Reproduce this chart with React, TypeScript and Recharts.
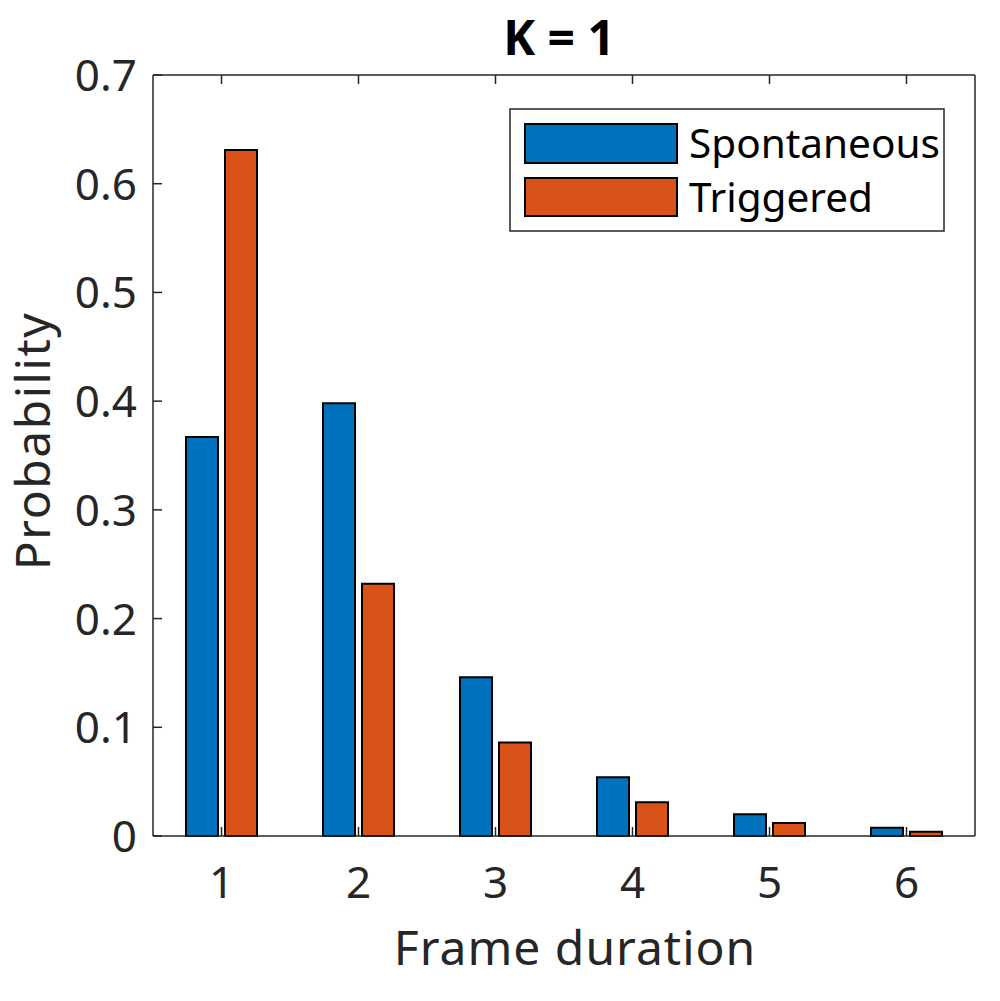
import React from "react";
import { BarChart, Bar, XAxis, YAxis } from "recharts";

const durations = ["1", "2", "3", "4", "5", "6"];
const spontaneous = [0.367, 0.398, 0.146, 0.054, 0.02, 0.0075];
const triggered = [0.631, 0.232, 0.086, 0.031, 0.012, 0.004];
const yTicks = [0, 0.1, 0.2, 0.3, 0.4, 0.5, 0.6, 0.7];
const yTickLabels = ["0", "0.1", "0.2", "0.3", "0.4", "0.5", "0.6", "0.7"];

const BLUE = "#0072BD";
const ORANGE = "#D95319";
const AXIS = "#262626";
const FONT = "'Noto Sans', 'Open Sans', sans-serif";
const TICK_LEN = 9;

const data = durations.map((d, i) => ({
  duration: d,
  spontaneous: spontaneous[i],
  triggered: triggered[i],
}));

// MATLAB style: tick marks point into the plot box
const LeftTick = (props: any) => {
  const { x, y, payload } = props;
  const idx = yTicks.indexOf(payload.value);
  return (
    <g>
      <line x1={x} x2={x + TICK_LEN} y1={y} y2={y} stroke={AXIS} strokeWidth={1.5} />
      <text x={x - 16} y={y + 16} textAnchor="end" fontSize={44} fill={AXIS} fontFamily={FONT}>
        {yTickLabels[idx] ?? payload.value}
      </text>
    </g>
  );
};

const RightTick = (props: any) => {
  const { x, y } = props;
  return <line x1={x} x2={x - TICK_LEN} y1={y} y2={y} stroke={AXIS} strokeWidth={1.5} />;
};

const BottomTick = (props: any) => {
  const { x, y, payload } = props;
  return (
    <g>
      <line x1={x} x2={x} y1={y} y2={y - TICK_LEN} stroke={AXIS} strokeWidth={1.5} />
      <text x={x} y={y + 62} textAnchor="middle" fontSize={44} fill={AXIS} fontFamily={FONT}>
        {payload.value}
      </text>
    </g>
  );
};

const TopTick = (props: any) => {
  const { x, y } = props;
  return <line x1={x} x2={x} y1={y} y2={y + TICK_LEN} stroke={AXIS} strokeWidth={1.5} />;
};

export default function App() {
  return (
    <div style={{ position: "absolute", left: 0, top: 0, width: 1000, height: 1001, background: "#fff" }}>
      <BarChart
        width={1000}
        height={1001}
        data={data}
        margin={{ top: 74, right: 24, bottom: 105, left: 93 }}
        barSize={32}
        barGap={7}
      >
        <XAxis
          dataKey="duration"
          height={60}
          tickSize={0}
          tickMargin={0}
          tickLine={false}
          axisLine={{ stroke: AXIS, strokeWidth: 1.5 }}
          tick={BottomTick}
          interval={0}
        />
        <XAxis
          xAxisId="top"
          dataKey="duration"
          orientation="top"
          height={1}
          tickSize={0}
          tickMargin={0}
          tickLine={false}
          axisLine={{ stroke: AXIS, strokeWidth: 1.5 }}
          tick={TopTick}
          interval={0}
        />
        <YAxis
          width={60}
          domain={[0, 0.7]}
          ticks={yTicks}
          tickSize={0}
          tickMargin={0}
          tickLine={false}
          axisLine={{ stroke: AXIS, strokeWidth: 1.5 }}
          tick={LeftTick}
          interval={0}
        />
        <YAxis
          yAxisId="right"
          orientation="right"
          width={1}
          domain={[0, 0.7]}
          ticks={yTicks}
          tickSize={0}
          tickMargin={0}
          tickLine={false}
          axisLine={{ stroke: AXIS, strokeWidth: 1.5 }}
          tick={RightTick}
          interval={0}
        />
        <Bar dataKey="spontaneous" name="Spontaneous" fill={BLUE} stroke="#000" strokeWidth={2} isAnimationActive={false} />
        <Bar dataKey="triggered" name="Triggered" fill={ORANGE} stroke="#000" strokeWidth={2} isAnimationActive={false} />

        <text x={559} y={55} textAnchor="middle" fontSize={48} fontWeight="bold" fill="#000" fontFamily={FONT}>
          K = 1
        </text>
        <text x={575} y={965} textAnchor="middle" fontSize={48} letterSpacing={1} fill={AXIS} fontFamily={FONT}>
          Frame duration
        </text>
        <text transform="translate(50,441) rotate(-90)" textAnchor="middle" fontSize={48} letterSpacing={1.5} fill={AXIS} fontFamily={FONT}>
          Probability
        </text>

        <g>
          <rect x={510} y={109} width={434} height={122} fill="#fff" stroke={AXIS} strokeWidth={1.5} />
          <rect x={525} y={124} width={152} height={39} fill={BLUE} stroke="#000" strokeWidth={2} />
          <rect x={525} y={178} width={152} height={38} fill={ORANGE} stroke="#000" strokeWidth={2} />
          <text x={689} y={158} fontSize={40.5} fill="#000" fontFamily={FONT}>
            Spontaneous
          </text>
          <text x={689} y={212} fontSize={40.5} fill="#000" fontFamily={FONT}>
            Triggered
          </text>
        </g>
      </BarChart>
    </div>
  );
}
